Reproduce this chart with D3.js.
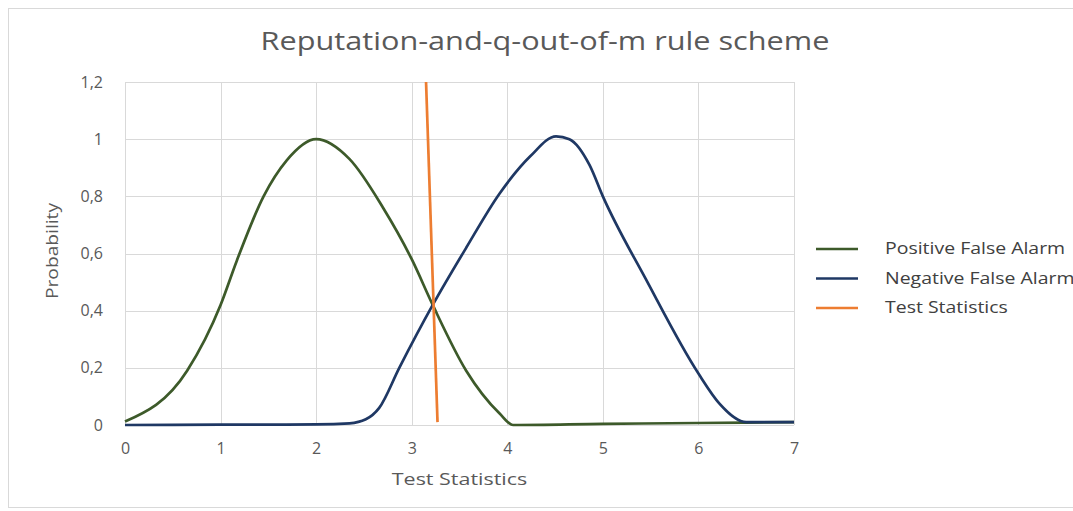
<!DOCTYPE html>
<html lang="en">
<head>
    <meta charset="UTF-8">
    <title>Reputation-and-q-out-of-m rule scheme</title>
    <script src="https://d3js.org/d3.v7.min.js"></script>
    <style>
        body { margin: 0; background: #fff; }
        text { font-family: "Open Sans", "Noto Sans", sans-serif; }
    </style>
</head>
<body>
</body>
<script>
    // values: [test statistic, probability]
    const positiveFalseAlarm = [
        [0, 0.012], [0.65, 0.19], [1, 0.42], [1.17, 0.575], [1.45, 0.8], [1.69, 0.925], [2, 1.0],
        [2.35, 0.93], [2.7, 0.76], [3, 0.58], [3.22, 0.42], [3.57, 0.19], [3.92, 0.04],
        [4.06, 0.0], [5, 0.004], [6, 0.007], [7, 0.01]
    ];
    const negativeFalseAlarm = [
        [0, 0.0], [1, 0.001], [2, 0.002], [2.35, 0.006], [2.52, 0.02], [2.66, 0.06], [2.87, 0.2],
        [3.22, 0.42], [3.57, 0.62], [3.92, 0.81], [4.24, 0.94], [4.51, 1.01], [4.65, 1.0],
        [4.86, 0.91], [5, 0.8], [5.45, 0.51], [6, 0.18], [6.22, 0.075], [6.5, 0.01], [7, 0.01]
    ];
    const testStatistics = [[3.15, 1.2], [3.27, 0.01]];

    const seriesNames = ["Positive False Alarm", "Negative False Alarm", "Test Statistics"];
    const seriesColors = ["#3d5a2a", "#1f3864", "#ed7d31"];
    const xTicks = [0, 1, 2, 3, 4, 5, 6, 7];
    const yTicks = [0, 0.2, 0.4, 0.6, 0.8, 1, 1.2];

    const WIDTH = 1073, HEIGHT = 511;
    const PLOT = {left: 125, right: 794, top: 82, bottom: 425};

    const svg = d3.select("body").append("svg").attr("width", WIDTH).attr("height", HEIGHT);
    svg.append("rect").attr("x", 8.5).attr("y", 8.5).attr("width", 1080).attr("height", 499)
        .style("fill", "white").style("stroke", "#d9d9d9");

    const x = d3.scaleLinear().domain([0, 7]).range([PLOT.left, PLOT.right]);
    const y = d3.scaleLinear().domain([0, 1.2]).range([PLOT.bottom, PLOT.top]);
    const fmt = d => d3.format("~g")(d).replace(".", ",");

    // the source text is a bit wider than it is tall, so stretch it horizontally
    function label(px, py, str, size, sx, anchor, fill, rot) {
        return svg.append("text")
            .attr("transform", `translate(${px},${py})` + (rot ? ` rotate(${rot})` : "") + ` scale(${sx},1)`)
            .attr("text-anchor", anchor).style("font-size", size + "px").style("fill", fill).text(str);
    }

    // gridlines
    svg.append("g").selectAll("line").data(yTicks).join("line")
        .attr("x1", PLOT.left).attr("x2", PLOT.right)
        .attr("y1", d => Math.round(y(d)) + 0.5).attr("y2", d => Math.round(y(d)) + 0.5)
        .style("stroke", "#d9d9d9");
    svg.append("g").selectAll("line").data(xTicks).join("line")
        .attr("x1", d => Math.round(x(d)) + 0.5).attr("x2", d => Math.round(x(d)) + 0.5)
        .attr("y1", PLOT.top).attr("y2", PLOT.bottom)
        .style("stroke", "#d9d9d9");

    // axes (labels only, Excel style)
    const xAxis = svg.append("g").attr("transform", `translate(0,${PLOT.bottom})`)
        .call(d3.axisBottom(x).tickValues(xTicks).tickFormat(fmt).tickSize(0).tickPadding(18));
    const yAxis = svg.append("g").attr("transform", `translate(${PLOT.left},0)`)
        .call(d3.axisLeft(y).tickValues(yTicks).tickFormat(fmt).tickSize(0).tickPadding(22));
    [xAxis, yAxis].forEach(a => {
        a.select(".domain").remove();
        a.selectAll("text").style("font-family", "'Open Sans', sans-serif")
            .style("font-size", "16px").style("fill", "#595959");
    });

    // series
    const smooth = d3.line().x(d => x(d[0])).y(d => y(d[1])).curve(d3.curveMonotoneX);
    const straight = d3.line().x(d => x(d[0])).y(d => y(d[1]));
    [[positiveFalseAlarm, smooth], [negativeFalseAlarm, smooth], [testStatistics, straight]]
        .forEach(([s, gen], i) => {
            svg.append("path").attr("d", gen(s)).style("fill", "none")
                .style("stroke", seriesColors[i]).style("stroke-width", 2.7)
                .style("stroke-linejoin", "round");
        });

    // title and axis titles
    label(545, 50, "Reputation-and-q-out-of-m rule scheme", 26, 1.18, "middle", "#595959");
    label(459.5, 485, "Test Statistics", 16.5, 1.3, "middle", "#595959");
    label(58, 251, "Probability", 16, 1.2, "middle", "#595959", -90);

    // legend (the right edge of the picture cuts the longest entries, as in the source)
    seriesNames.forEach((name, i) => {
        const ly = 249 + i * 29.5;
        svg.append("line").attr("x1", 816).attr("x2", 858).attr("y1", ly).attr("y2", ly)
            .style("stroke", seriesColors[i]).style("stroke-width", 2.7);
        label(885, ly + 5, name, 16.5, 1.18, "start", "#404040");
    });
</script>
</html>
